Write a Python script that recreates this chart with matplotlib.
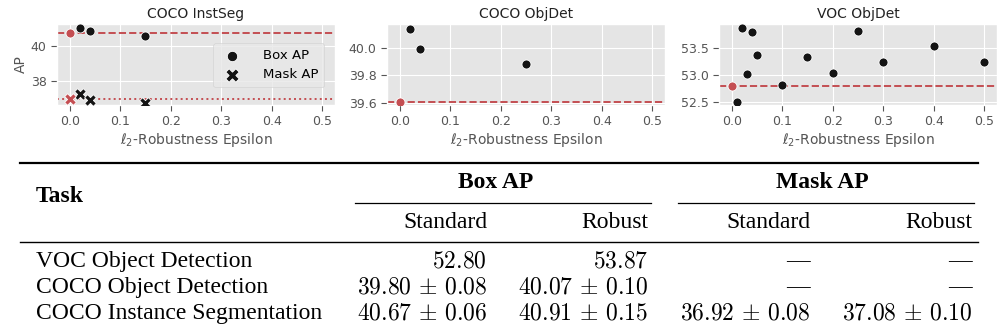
import matplotlib
matplotlib.use("Agg")
import matplotlib.pyplot as plt
from matplotlib.lines import Line2D
from matplotlib.ticker import FormatStrFormatter

plt.style.use("ggplot")

RED = "#C44E52"
DARK = "#141414"

# COCO instance segmentation (robustness eps vs AP)
seg_eps = [0.02, 0.04, 0.15]
seg_box = [41.03, 40.84, 40.58]
seg_mask = [37.26, 36.90, 36.74]
seg_box_std = 40.72
seg_mask_std = 36.96

# COCO object detection
det_eps = [0.02, 0.04, 0.25]
det_box = [40.14, 39.99, 39.88]
det_box_std = 39.605

# VOC object detection
voc_eps = [0.01, 0.02, 0.03, 0.04, 0.05, 0.1, 0.15, 0.2, 0.25, 0.3, 0.4, 0.5]
voc_box = [52.50, 53.87, 53.02, 53.79, 53.37, 52.82, 53.33, 53.04, 53.81, 53.24, 53.54, 53.25]
voc_box_std = 52.80

# table contents
tasks = ["VOC Object Detection", "COCO Object Detection", "COCO Instance Segmentation"]
box_standard = [r"$52.80$", r"$39.80\,\pm\,0.08$", r"$40.67\,\pm\,0.06$"]
box_robust = [r"$53.87$", r"$40.07\,\pm\,0.10$", r"$40.91\,\pm\,0.15$"]
mask_standard = ["—", "—", r"$36.92\,\pm\,0.08$"]
mask_robust = ["—", "—", r"$37.08\,\pm\,0.10$"]

W, H = 997, 334
fig = plt.figure(figsize=(W / 100, H / 100), dpi=100)


def make_ax(left_px, ylim, yticks, title):
    ax = fig.add_axes([left_px / W, 1 - 105 / H, 278 / W, 81 / H])
    ax.set_xlim(-0.025, 0.525)
    ax.set_ylim(*ylim)
    ax.set_xticks([0.0, 0.1, 0.2, 0.3, 0.4, 0.5])
    ax.set_yticks(yticks)
    ax.tick_params(labelsize=9, colors="#555555", length=4)
    ax.set_title(title, fontsize=10, pad=4, color="#222222")
    ax.set_xlabel(r"$\ell_2$-Robustness Epsilon", fontsize=10, color="#555555", labelpad=2)
    return ax


# COCO InstSeg
ax1 = make_ax(57, (36.62, 41.24), [38, 40], "COCO InstSeg")
ax1.axhline(seg_box_std, color=RED, ls="--", lw=1.4, zorder=2)
ax1.axhline(seg_mask_std, color=RED, ls=":", lw=1.4, zorder=2)
ax1.scatter(seg_eps, seg_box, s=42, c=DARK, edgecolors="white", linewidths=0.6, zorder=3, label="Box AP")
ax1.scatter([0.0], [seg_box_std], s=42, c=RED, edgecolors="white", linewidths=0.6, zorder=3)
ax1.scatter(seg_eps, seg_mask, s=70, c=DARK, marker="X", edgecolors="white", linewidths=0.6, zorder=3, label="Mask AP")
ax1.scatter([0.0], [seg_mask_std], s=70, c=RED, marker="X", edgecolors="white", linewidths=0.6, zorder=3)
ax1.set_ylabel("AP", fontsize=10, color="#555555", labelpad=2)
ax1.legend(loc="center right", fontsize=9.5, frameon=True, facecolor="#E8E8E8",
           edgecolor="#D0D0D0", borderpad=0.45, handletextpad=1.3, labelspacing=0.45,
           markerscale=1.15, bbox_to_anchor=(0.985, 0.49))

# COCO ObjDet
ax2 = make_ax(387, (39.585, 40.175), [39.6, 39.8, 40.0], "COCO ObjDet")
ax2.axhline(det_box_std, color=RED, ls="--", lw=1.4, zorder=2)
ax2.scatter(det_eps, det_box, s=42, c=DARK, edgecolors="white", linewidths=0.6, zorder=3)
ax2.scatter([0.0], [det_box_std], s=42, c=RED, edgecolors="white", linewidths=0.6, zorder=3)
ax2.yaxis.set_major_formatter(FormatStrFormatter("%.1f"))

# VOC ObjDet
ax3 = make_ax(719, (52.45, 53.94), [52.5, 53.0, 53.5], "VOC ObjDet")
ax3.axhline(voc_box_std, color=RED, ls="--", lw=1.4, zorder=2)
ax3.scatter(voc_eps, voc_box, s=42, c=DARK, edgecolors="white", linewidths=0.6, zorder=3)
ax3.scatter([0.0], [voc_box_std], s=42, c=RED, edgecolors="white", linewidths=0.6, zorder=3)
ax3.yaxis.set_major_formatter(FormatStrFormatter("%.1f"))

# ---- table drawn in pixel coordinates ----
tab = fig.add_axes([0, 0, 1, 1], facecolor="none")
tab.set_xlim(0, W)
tab.set_ylim(H, 0)
tab.axis("off")

serif = "Liberation Serif"
fs = 17
fs_num = 17

tab.add_line(Line2D([20, 978], [163, 163], color="black", lw=1.6))
tab.add_line(Line2D([20, 978], [241.5, 241.5], color="black", lw=1.0))
tab.add_line(Line2D([355, 651], [202.5, 202.5], color="black", lw=0.9))
tab.add_line(Line2D([678, 974], [202.5, 202.5], color="black", lw=0.9))

tab.text(36, 196, "Task", family=serif, weight="bold", fontsize=fs, va="center", ha="left")
tab.text(496, 183, "Box AP", family=serif, weight="bold", fontsize=fs, va="center", ha="center")
tab.text(822, 183, "Mask AP", family=serif, weight="bold", fontsize=fs, va="center", ha="center")

col_right = [487, 648, 810, 972]
for x, lab in zip(col_right, ["Standard", "Robust", "Standard", "Robust"]):
    tab.text(x, 222, lab, family=serif, fontsize=fs, va="center", ha="right")

row_y = [262, 287.5, 314]
for i, y in enumerate(row_y):
    tab.text(36, y, tasks[i], family=serif, fontsize=fs, va="center", ha="left")
    for x, col in zip(col_right, [box_standard, box_robust, mask_standard, mask_robust]):
        tab.text(x, y, col[i], family=serif, fontsize=fs_num, va="center", ha="right",
                 math_fontfamily="cm")

fig.savefig("out.png", dpi=100)
